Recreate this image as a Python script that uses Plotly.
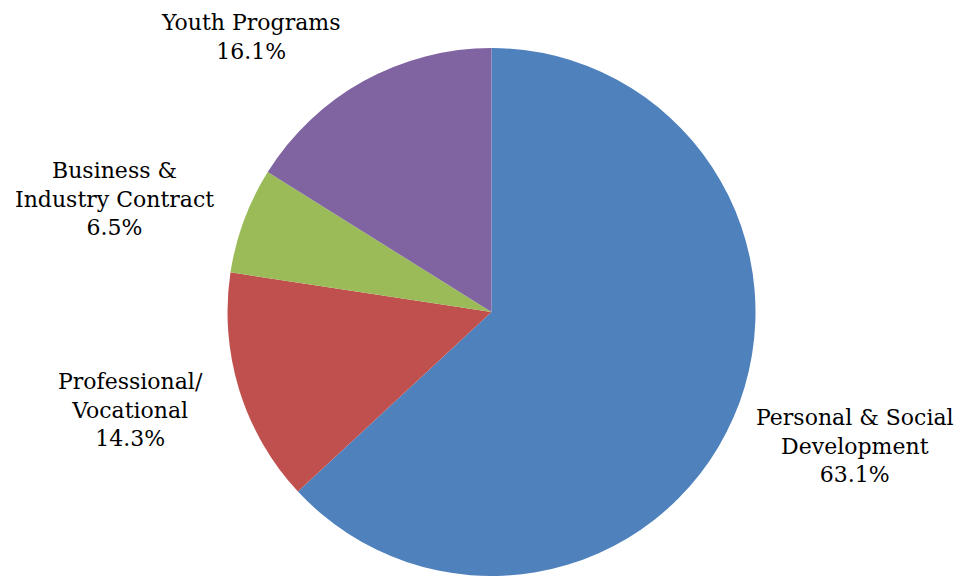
import plotly.graph_objects as go

labels = ["Personal & Social<br>Development", "Professional/<br>Vocational",
          "Business &<br>Industry Contract", "Youth Programs"]
values = [63.1, 14.3, 6.5, 16.1]
colors = ["#4F81BD", "#C0504D", "#9BBB59", "#8064A2"]
# label centres in page pixels (x, y from top)
label_px = [(855, 446), (130, 410), (114, 199), (250, 37)]

OFF = 8  # page body margin
W, H = 965 - OFF, 576 - OFF
cx, cy, r = 491.5 - OFF, 312.5 - OFF, 264.5

fig = go.Figure(go.Pie(
    labels=labels, values=values, sort=False, direction="clockwise",
    rotation=0, marker=dict(colors=colors, line=dict(width=0)),
    textinfo="none", hoverinfo="label+percent", showlegend=False,
    domain=dict(x=[(cx - r) / W, (cx + r) / W],
                y=[max(0, (H - cy - r) / H), min(1, (H - cy + r) / H)]),
))

for lab, val, (px, py) in zip(labels, values, label_px):
    fig.add_annotation(x=(px - OFF) / W, y=(H - (py - OFF)) / H, xref="paper", yref="paper",
                       xanchor="center", yanchor="middle", showarrow=False,
                       text=f"{lab}<br>{val:.1f}%", align="center",
                       font=dict(family="DejaVu Serif", size=22, color="#000000"))

fig.update_layout(width=W, height=H, margin=dict(l=0, r=0, t=0, b=0),
                  paper_bgcolor="white", plot_bgcolor="white")
fig.write_html("out.html")
